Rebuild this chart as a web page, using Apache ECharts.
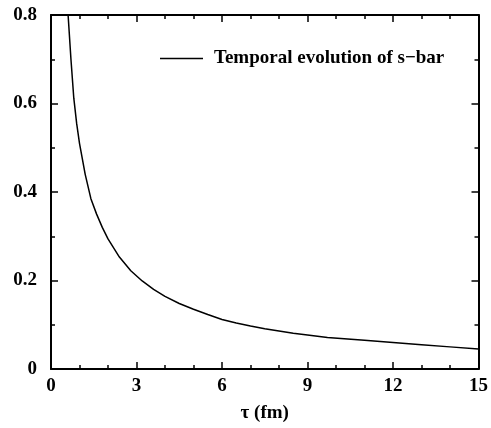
<!DOCTYPE html>
<html>
<head>
<meta charset="utf-8">
<script src="https://cdn.jsdelivr.net/npm/echarts@6/dist/echarts.min.js"></script>
<style>html,body{margin:0;padding:0;background:#fff;}#c{width:491px;height:428px;}</style>
</head>
<body>
<div id="c"></div>
<script>
var seriesName = 'Temporal evolution of s\u2212bar';
var tau  = [0.6, 0.7, 0.8, 0.9, 1.0, 1.2, 1.4, 1.6, 1.8, 2.0, 2.4, 2.8, 3.2, 3.6, 4.0, 4.5, 5.0, 5.5, 6.0, 6.5, 7.0, 7.5, 8.0, 8.5, 9.0, 9.7, 11.0, 12.0, 13.0, 14.0, 15.0];
var sbar = [0.800, 0.700, 0.612, 0.555, 0.510, 0.440, 0.385, 0.350, 0.320, 0.294, 0.253, 0.222, 0.199, 0.180, 0.164, 0.148, 0.135, 0.123, 0.112, 0.104, 0.097, 0.091, 0.086, 0.081, 0.077, 0.071, 0.065, 0.060, 0.055, 0.050, 0.045];
var xTicks = [0, 3, 6, 9, 12, 15];
var yTicks = [0, 0.2, 0.4, 0.6, 0.8];

var font = 'Liberation Serif';
var points = tau.map(function (t, i) { return [t, sbar[i]]; });

function xAx(pos, show) {
  return {
    type: 'value', position: pos, min: xTicks[0], max: xTicks[xTicks.length - 1],
    interval: xTicks[1] - xTicks[0],
    axisLine: { show: true, onZero: false, lineStyle: { color: '#000', width: 2 } },
    axisTick: { show: true, inside: true, length: 7, lineStyle: { color: '#000', width: 1.5 } },
    minorTick: { show: true, splitNumber: 3, length: 4, lineStyle: { color: '#000', width: 1.5 } },
    splitLine: { show: false },
    axisLabel: { show: show, color: '#000', fontFamily: font, fontWeight: 'bold', fontSize: 19, margin: 8 },
    name: show ? '\u03c4 (fm)' : '', nameLocation: 'middle', nameGap: 35,
    nameTextStyle: { color: '#000', fontFamily: font, fontWeight: 'bold', fontSize: 19 }
  };
}
function yAx(pos, show) {
  return {
    type: 'value', position: pos, min: yTicks[0], max: yTicks[yTicks.length - 1],
    interval: yTicks[1] - yTicks[0],
    axisLine: { show: true, onZero: false, lineStyle: { color: '#000', width: 2 } },
    axisTick: { show: true, inside: true, length: 7, lineStyle: { color: '#000', width: 1.5 } },
    minorTick: { show: true, splitNumber: 2, length: 4, lineStyle: { color: '#000', width: 1.5 } },
    splitLine: { show: false },
    axisLabel: { show: show, color: '#000', fontFamily: font, fontWeight: 'bold', fontSize: 19, margin: 14 }
  };
}

var chart = echarts.init(document.getElementById('c'), null, { renderer: 'canvas' });
chart.setOption({
  animation: false,
  backgroundColor: '#fff',
  grid: { left: 51, right: 9, top: 15, bottom: 54, containLabel: false },
  legend: {
    left: 155, top: 44,
    data: [{ name: seriesName, icon: 'rect' }],
    itemWidth: 43, itemHeight: 1.5,
    textStyle: { color: '#000', fontFamily: font, fontWeight: 'bold', fontSize: 19, padding: [0, 0, 0, 6] }
  },
  xAxis: [xAx('bottom', true), xAx('top', false)],
  yAxis: [yAx('left', true), yAx('right', false)],
  series: [{
    name: seriesName, type: 'line', data: points, xAxisIndex: 0, yAxisIndex: 0,
    showSymbol: false, smooth: false, clip: true,
    lineStyle: { color: '#000', width: 1.5 }, itemStyle: { color: '#000' }
  }]
});
</script>
</body>
</html>
